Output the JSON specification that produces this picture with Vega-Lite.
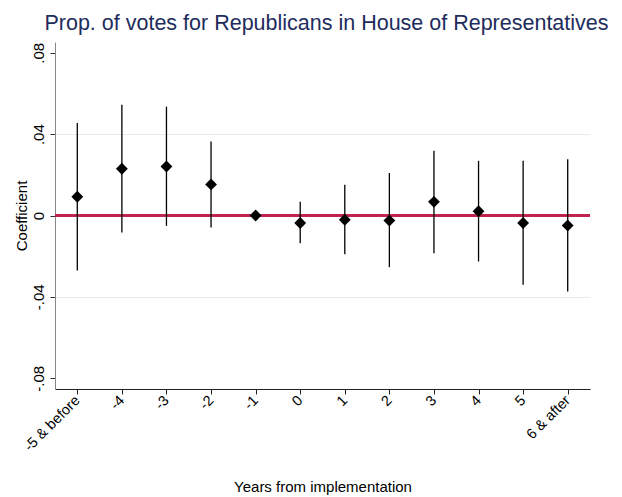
{
  "$schema": "https://vega.github.io/schema/vega-lite/v6.json",
  "width": 535,
  "height": 347,
  "autosize": {"type": "none"},
  "padding": {"left": 55, "top": 42, "right": 32, "bottom": 108},
  "background": "white",
  "title": {
    "text": "Prop. of votes for Republicans in House of Representatives",
    "font": "Liberation Sans",
    "fontSize": 21.5,
    "fontWeight": "normal",
    "color": "#1e2c5c",
    "anchor": "middle",
    "dx": 4,
    "offset": 8
  },
  "config": {
    "view": {"stroke": null},
    "font": "Liberation Sans"
  },
  "data": {
    "values": [
      {"period": "-5 & before", "coef": 0.0092, "lo": -0.027, "hi": 0.0455},
      {"period": "-4", "coef": 0.023, "lo": -0.0084, "hi": 0.0545},
      {"period": "-3", "coef": 0.0241, "lo": -0.0051, "hi": 0.0535},
      {"period": "-2", "coef": 0.0153, "lo": -0.0059, "hi": 0.0364},
      {"period": "-1", "coef": 0.0, "lo": null, "hi": null},
      {"period": "0", "coef": -0.0037, "lo": -0.0136, "hi": 0.0067},
      {"period": "1", "coef": -0.0021, "lo": -0.019, "hi": 0.0151},
      {"period": "2", "coef": -0.0025, "lo": -0.0254, "hi": 0.0209},
      {"period": "3", "coef": 0.0067, "lo": -0.0185, "hi": 0.0318},
      {"period": "4", "coef": 0.0021, "lo": -0.0226, "hi": 0.0269},
      {"period": "5", "coef": -0.0037, "lo": -0.0341, "hi": 0.0269},
      {"period": "6 & after", "coef": -0.0049, "lo": -0.0374, "hi": 0.0277}
    ]
  },
  "encoding": {
    "x": {
      "field": "period",
      "type": "ordinal",
      "sort": ["-5 & before", "-4", "-3", "-2", "-1", "0", "1", "2", "3", "4", "5", "6 & after"],
      "scale": {"type": "point", "padding": 0.5},
      "axis": {
        "title": "Years from implementation",
        "titleFont": "Liberation Sans",
        "titleFontSize": 15,
        "titleFontWeight": "normal",
        "titleColor": "black",
        "titlePadding": 26,
        "labelAngle": -45,
        "labelAlign": "right",
        "labelBaseline": "middle",
        "labelFontSize": 14.5,
        "labelColor": "black",
        "labelPadding": 4,
        "domainColor": "#222222",
        "tickColor": "#222222",
        "tickSize": 5,
        "grid": false
      }
    }
  },
  "layer": [
    {
      "mark": {"type": "rule", "color": "#c0204c", "strokeWidth": 1.4},
      "encoding": {"y": {"datum": 0, "type": "quantitative"}, "x": {"value": 0}, "x2": {"value": 535}}
    },
    {
      "mark": {"type": "rule", "color": "black", "strokeWidth": 1.3},
      "transform": [{"filter": "datum.lo != null"}],
      "encoding": {
        "y": {"field": "lo", "type": "quantitative"},
        "y2": {"field": "hi"}
      }
    },
    {
      "mark": {"type": "point", "shape": "diamond", "filled": true, "color": "black", "size": 140, "opacity": 1},
      "encoding": {
        "y": {
          "field": "coef",
          "type": "quantitative",
          "scale": {"domain": [-0.0853, 0.0853], "nice": false, "zero": false},
          "axis": {
            "title": "Coefficient",
            "titleFont": "Liberation Sans",
            "titleFontSize": 15,
            "titleFontWeight": "normal",
            "titleColor": "black",
            "titlePadding": 2,
            "values": [-0.08, -0.04, 0, 0.04, 0.08],
            "labelExpr": "datum.value == 0 ? '0' : (datum.value < 0 ? '-' : '') + '.0' + round(abs(datum.value) * 100)",
            "labelAngle": -90,
            "labelAlign": "center",
            "labelBaseline": "bottom",
            "labelFontSize": 15,
            "labelColor": "black",
            "labelPadding": 4,
            "domainColor": "#888888",
            "tickColor": "#333333",
            "tickSize": 5,
            "grid": true,
            "gridColor": {"condition": {"test": "abs(datum.value) == 0.04", "value": "#e4ecf0"}, "value": "transparent"},
            "gridWidth": 1.2
          }
        }
      }
    }
  ]
}
